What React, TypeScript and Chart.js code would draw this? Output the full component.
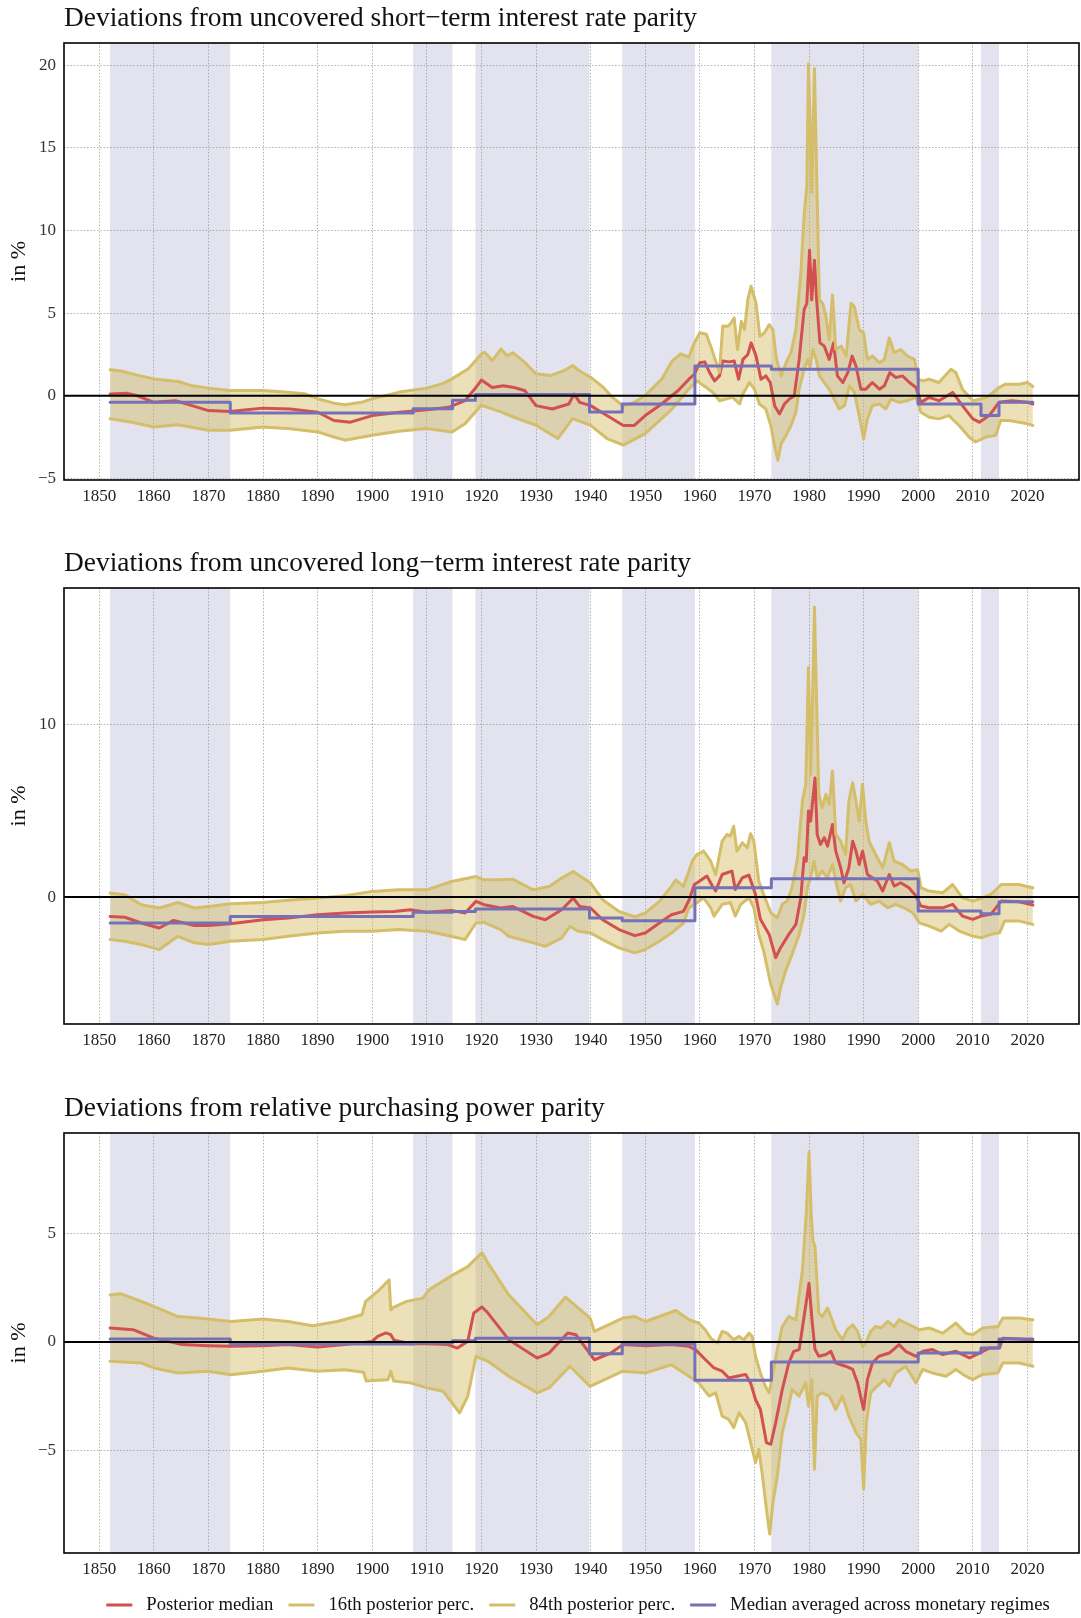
import React, { useEffect, useRef } from "react";
import { Chart, registerables } from "chart.js";

Chart.register(...registerables);

type Pt = [number, number];

// ---------- shared axis data ----------
const xTickYears = [1850, 1860, 1870, 1880, 1890, 1900, 1910, 1920, 1930, 1940, 1950, 1960, 1970, 1980, 1990, 2000, 2010, 2020];
// monetary regime boundaries (shaded: 1st, 3rd, 5th ... interval)
const regimeBreaks = [1852, 1874, 1907.5, 1914.7, 1918.9, 1939.8, 1945.8, 1959.1, 1973.1, 2000, 2011.5, 2014.8, 2021];

const seriesLabels = ["Posterior median", "16th posterior perc.", "84th posterior perc.", "Median averaged across monetary regimes"];

// ---------- panel 1: short-term interest rate parity ----------
const p1Median: Pt[] = [
  [1852, 0.1], [1855, 0.15], [1857, 0.0], [1860, -0.4], [1864, -0.3], [1867, -0.6], [1870, -0.9], [1874, -0.95], [1877, -0.85], [1880, -0.75],
  [1885, -0.8], [1890, -1.0], [1893, -1.5], [1896, -1.6], [1900, -1.2], [1905, -1.0], [1910, -0.85], [1914, -0.7], [1917, -0.3], [1919, 0.5],
  [1920, 0.95], [1922, 0.5], [1924, 0.6], [1926, 0.5], [1928, 0.3], [1930, -0.6], [1933, -0.8], [1936, -0.5], [1937, 0.1], [1938, -0.4],
  [1940, -0.6], [1942, -1.0], [1946, -1.8], [1948, -1.8], [1950, -1.2], [1953, -0.5], [1956, 0.3], [1958, 1.0], [1959, 1.3], [1960, 2.0],
  [1960.9, 2.05], [1961.8, 1.4], [1962.7, 0.9], [1963.6, 1.2], [1964.2, 2.1], [1965.4, 2.05], [1966.3, 2.1], [1967.1, 1.0], [1967.9, 2.2], [1968.8, 2.5],
  [1969.4, 3.2], [1970.3, 2.4], [1971.2, 1.0], [1972.1, 1.2], [1972.9, 0.8], [1973.7, -0.6], [1974.6, -1.1], [1975.5, -0.5], [1976.4, -0.2], [1977.3, 0.0],
  [1978.2, 2.2], [1979.1, 5.2], [1979.6, 5.6], [1980.1, 8.8], [1980.5, 5.8], [1981, 8.2], [1981.4, 5.8], [1982, 3.2], [1982.8, 3.0], [1983.7, 2.2],
  [1984.5, 3.2], [1985.2, 1.2], [1986.2, 0.8], [1987.1, 1.4], [1987.9, 2.4], [1988.6, 1.8], [1989.5, 0.4], [1990.4, 0.4], [1991.6, 0.8], [1992.9, 0.4],
  [1993.8, 0.6], [1994.8, 1.4], [1995.9, 1.1], [1997.1, 1.2], [1998.4, 0.8], [1999.6, 0.5], [2000.5, -0.4], [2002, -0.1], [2003.8, -0.3], [2006.3, 0.2],
  [2008.1, -0.6], [2010, -1.4], [2011.2, -1.6], [2013, -1.2], [2014.8, -0.4], [2017.2, -0.3], [2020, -0.4], [2021, -0.5],
];
const p1Lower: Pt[] = [
  [1852, -1.39], [1856, -1.6], [1860, -1.89], [1864.4, -1.75], [1870, -2.09], [1874, -2.09], [1880, -1.89], [1885, -2.0], [1890, -2.19], [1893, -2.5],
  [1895, -2.69], [1900, -2.39], [1904.9, -2.15], [1910, -1.99], [1914.6, -2.19], [1917, -1.69], [1920, -0.58], [1923.6, -0.98], [1925, -1.18], [1930, -1.79],
  [1934, -2.59], [1936.7, -1.39], [1940, -1.79], [1943, -2.59], [1946, -2.99], [1950, -2.29], [1955, -0.78], [1958, 0.42], [1959.5, 0.9], [1960.3, 0.7],
  [1961.2, 0.5], [1962.4, 0.2], [1963.6, -0.3], [1964.8, -0.2], [1966, -0.1], [1967.3, -0.5], [1967.9, 0.1], [1969.1, 0.8], [1970, 0.4], [1970.9, -0.5],
  [1972.1, -0.8], [1973, -1.8], [1973.8, -3.2], [1974.3, -3.9], [1974.9, -2.9], [1975.8, -2.4], [1976.7, -1.8], [1977.6, -1.0], [1978.2, 0.4], [1979.1, 1.6],
  [1979.8, 2.2], [1980.2, 1.7], [1980.7, 2.8], [1981.3, 2.2], [1981.9, 1.2], [1982.8, 0.8], [1983.7, 0.4], [1984.6, -0.2], [1985.5, -0.8], [1986.5, -0.6],
  [1987.4, 0.6], [1988.3, 0.2], [1989.2, -1.2], [1990, -2.6], [1990.7, -1.4], [1991.6, -0.6], [1992.9, -0.5], [1994.1, -0.8], [1995, -0.2], [1996.5, -0.4],
  [1998, -0.3], [1999.6, -0.1], [2000.5, -1.0], [2002, -1.3], [2003.8, -1.4], [2005.6, -1.2], [2007.5, -1.8], [2009.3, -2.5], [2010.5, -2.8], [2012.4, -2.5],
  [2014.2, -2.4], [2015.1, -1.5], [2016.6, -1.5], [2018.5, -1.6], [2020, -1.7], [2021, -1.8],
];
const p1Upper: Pt[] = [
  [1852, 1.57], [1854, 1.5], [1857, 1.25], [1860, 1.02], [1864.5, 0.86], [1867, 0.6], [1870, 0.46], [1874, 0.32], [1880, 0.32], [1884, 0.22],
  [1887.6, 0.12], [1890, -0.18], [1893, -0.45], [1895, -0.54], [1898, -0.4], [1900, -0.18], [1905, 0.22], [1910, 0.46], [1913, 0.75], [1914.6, 1.02],
  [1917.6, 1.63], [1920, 2.53], [1920.6, 2.63], [1922, 2.13], [1923.6, 2.83], [1924.7, 2.43], [1925.8, 2.6], [1928, 2.0], [1930, 1.33], [1932.6, 1.22],
  [1935, 1.5], [1936.7, 1.83], [1938, 1.5], [1940, 1.12], [1942.3, 0.52], [1944, -0.1], [1946, -0.62], [1948, -0.4], [1950, 0.02], [1953, 1.0],
  [1955, 2.13], [1956.5, 2.53], [1958, 2.33], [1959, 3.2], [1960, 3.82], [1961.2, 3.72], [1962.4, 2.61], [1963.6, 1.41], [1964.2, 4.22], [1965.1, 4.2],
  [1965.7, 4.4], [1966.3, 4.7], [1966.9, 2.8], [1967.6, 4.5], [1968.2, 4.0], [1968.8, 5.83], [1969.4, 6.63], [1970.3, 5.6], [1971, 3.6], [1971.8, 3.8],
  [1972.7, 4.3], [1973.4, 4.0], [1974, 2.3], [1974.9, 1.2], [1975.8, 2.0], [1976.7, 2.6], [1977.6, 4.0], [1978.5, 7.4], [1979.1, 10.9], [1979.6, 12.7],
  [1979.9, 20.1], [1980.2, 16.5], [1980.5, 12.3], [1981, 19.8], [1981.4, 13.5], [1981.9, 5.8], [1982.5, 5.6], [1983.1, 4.8], [1983.7, 3.4], [1984.3, 6.1],
  [1984.9, 2.8], [1985.9, 3.0], [1986.8, 2.4], [1987.7, 5.6], [1988.3, 5.4], [1989.2, 4.0], [1990, 3.8], [1990.7, 2.2], [1991.6, 2.4], [1992.9, 2.0],
  [1993.8, 2.2], [1994.7, 3.5], [1995.6, 2.6], [1996.8, 2.8], [1998, 2.4], [1999.3, 2.2], [2000, 1.0], [2000.8, 0.9], [2002, 1.0], [2003.8, 0.8],
  [2006, 1.6], [2006.9, 1.4], [2008.1, 0.4], [2010, -0.3], [2011.5, -0.2], [2013, 0.0], [2014.8, 0.5], [2016, 0.7], [2018.5, 0.7], [2020, 0.8], [2021, 0.56],
];
const p1Regime = [-0.4, -1.04, -0.78, -0.28, 0.08, -0.98, -0.5, 1.8, 1.6, -0.5, -1.2, -0.4];
const p1YTicks = [-5, 0, 5, 10, 15, 20];

// ---------- panel 2: long-term interest rate parity ----------
const p2Median: Pt[] = [
  [1852, -1.12], [1854.7, -1.17], [1857.7, -1.5], [1861, -1.79], [1863.6, -1.35], [1867.4, -1.65], [1870, -1.65], [1874, -1.54], [1880, -1.31], [1884.6, -1.21],
  [1890, -1.02], [1895, -0.92], [1900, -0.87], [1904, -0.83], [1907, -0.73], [1910, -0.88], [1914.5, -0.77], [1917, -0.92], [1919, -0.25], [1920.5, -0.44],
  [1923.5, -0.63], [1925.7, -0.54], [1929.5, -1.12], [1931.7, -1.31], [1934.7, -0.73], [1936.8, -0.06], [1938, -0.54], [1940, -0.63], [1942.2, -1.31], [1945.2, -1.88],
  [1948.1, -2.23], [1950, -2.08], [1952.6, -1.5], [1954.8, -1.02], [1957, -0.83], [1958, -0.2], [1959, 0.73], [1959.8, 0.89], [1961.3, 1.22], [1962.3, 0.64],
  [1962.9, 0.35], [1964.1, 1.31], [1965, 1.41], [1965.9, 1.5], [1966.5, 0.44], [1967.8, 1.12], [1969, 1.27], [1970.2, 0.15], [1971.1, -1.29], [1972.7, -2.16],
  [1973.9, -3.51], [1974.8, -2.93], [1976.3, -2.16], [1977.6, -1.58], [1978.5, -0.04], [1979.1, 2.28], [1979.5, 2.08], [1979.9, 4.98], [1980.3, 4.4], [1981.1, 6.9],
  [1981.5, 3.63], [1982.1, 3.05], [1982.8, 3.44], [1983.4, 2.95], [1984.3, 4.2], [1984.9, 2.66], [1985.8, 1.7], [1986.4, 0.83], [1987.3, 1.7], [1988, 3.24],
  [1988.6, 2.66], [1989.2, 1.89], [1989.8, 2.66], [1990.7, 1.31], [1991.6, 1.12], [1992.5, 0.93], [1993.5, 0.35], [1994.7, 1.31], [1995.6, 0.64], [1996.8, 0.83],
  [1998.3, 0.54], [1999.6, 0.06], [2000.5, -0.52], [2002, -0.62], [2004.5, -0.62], [2006.3, -0.42], [2008.1, -1.1], [2010, -1.29], [2011.5, -1.1], [2013.3, -1.0],
  [2015.2, -0.23], [2018.5, -0.27], [2021, -0.46],
];
const p2Lower: Pt[] = [
  [1852, -2.46], [1854.7, -2.56], [1857.7, -2.75], [1861, -3.04], [1864.4, -2.27], [1867.4, -2.65], [1870, -2.75], [1874, -2.56], [1880, -2.46], [1884.6, -2.27],
  [1890, -2.08], [1895, -1.98], [1900, -1.98], [1904.8, -1.88], [1910, -1.98], [1913, -2.17], [1917, -2.46], [1919, -1.5], [1920.5, -1.46], [1923.5, -1.88],
  [1925, -2.27], [1929.5, -2.65], [1931.7, -2.85], [1934.7, -2.37], [1936.2, -1.69], [1937.7, -1.98], [1940, -2.08], [1942.2, -2.46], [1945.2, -2.94], [1948.1, -3.23],
  [1950, -3.04], [1952.6, -2.56], [1954.8, -2.08], [1957, -1.5], [1958, -0.62], [1959.5, -0.33], [1960.7, -0.04], [1962, -0.62], [1962.6, -1.1], [1964.1, -0.42],
  [1965.6, -0.33], [1966.5, -1.1], [1967.5, -0.42], [1969, -0.04], [1969.9, -0.62], [1970.8, -2.16], [1971.7, -3.13], [1973, -5.06], [1974.2, -6.2], [1974.8, -5.25],
  [1975.7, -4.29], [1976.9, -3.32], [1978.2, -2.16], [1979.1, -1.0], [1979.7, 0.54], [1980.3, 1.12], [1980.9, 2.08], [1981.5, 1.12], [1982.4, 1.5], [1983.4, 1.12],
  [1984.3, 1.89], [1984.9, 0.93], [1985.8, -0.23], [1986.7, 0.54], [1987.6, 0.73], [1988.6, -0.23], [1989.8, 0.15], [1991.3, -0.42], [1992.8, -0.23], [1994.4, -0.62],
  [1995.9, -0.42], [1997.4, -0.62], [1999, -0.91], [2000.2, -1.49], [2002, -1.68], [2004.2, -1.97], [2005.7, -1.58], [2007.5, -1.97], [2010, -2.26], [2011.5, -2.36],
  [2013.3, -2.16], [2014.9, -2.07], [2015.8, -1.39], [2018.5, -1.39], [2021, -1.58],
];
const p2Upper: Pt[] = [
  [1852, 0.23], [1854.7, 0.13], [1857.7, -0.44], [1861, -0.63], [1864.4, -0.31], [1867.4, -0.63], [1870, -0.54], [1874, -0.38], [1880, -0.31], [1884.6, -0.19],
  [1890, -0.06], [1895, 0.08], [1900, 0.33], [1904.8, 0.42], [1910, 0.42], [1914.5, 0.9], [1919, 1.19], [1920.5, 1.0], [1923.5, 1.0], [1925.7, 1.04],
  [1929.5, 0.42], [1932.4, 0.62], [1934.7, 1.1], [1936.8, 1.48], [1940, 0.81], [1942.2, -0.15], [1945.2, -0.83], [1948.1, -1.15], [1950, -0.92], [1952.6, -0.25],
  [1954.8, 0.62], [1955.6, 1.0], [1957, 0.62], [1958, 1.5], [1958.6, 2.08], [1959.5, 2.47], [1960.7, 2.66], [1962, 2.08], [1962.9, 1.31], [1964.1, 3.24],
  [1965, 3.63], [1965.6, 3.53], [1966.2, 4.1], [1966.8, 2.66], [1967.8, 3.15], [1968.7, 2.86], [1969.3, 3.67], [1969.9, 3.24], [1970.8, 0.93], [1971.7, 0.15],
  [1973, -0.91], [1974.2, -1.2], [1975.1, -0.42], [1976, -0.23], [1976.9, 0.54], [1977.9, 2.28], [1978.8, 5.56], [1979.4, 6.53], [1979.9, 13.3], [1980.3, 7.1],
  [1980.7, 12.1], [1981, 16.8], [1981.4, 11.2], [1981.8, 5.95], [1982.4, 5.17], [1983.1, 5.95], [1983.7, 5.37], [1984.3, 7.3], [1984.9, 3.63], [1985.8, 3.24],
  [1986.7, 2.47], [1987.3, 5.56], [1988, 6.62], [1988.6, 5.56], [1989.2, 4.4], [1989.8, 6.53], [1990.4, 4.4], [1991, 3.24], [1992.2, 2.47], [1993.5, 1.7],
  [1994.7, 3.15], [1995.6, 2.08], [1997.1, 1.89], [1998.7, 1.5], [1999.9, 1.6], [2000.5, 0.54], [2002, 0.35], [2004.5, 0.25], [2006.3, 0.73], [2008.1, -0.04],
  [2010, -0.23], [2011.8, -0.04], [2013.3, 0.15], [2015.2, 0.73], [2018.5, 0.73], [2021, 0.54],
];
const p2Regime = [-1.5, -1.12, -0.88, -0.83, -0.69, -1.21, -1.37, 0.54, 1.06, -0.81, -0.97, -0.27];
const p2YTicks = [0, 10];

// ---------- panel 3: relative purchasing power parity ----------
const p3Median: Pt[] = [
  [1852, 0.65], [1856.2, 0.57], [1860, 0.18], [1865.2, -0.12], [1870, -0.17], [1874.1, -0.2], [1880, -0.17], [1884.6, -0.12], [1890, -0.23], [1895, -0.12],
  [1900, 0.03], [1901, 0.26], [1902.5, 0.42], [1903.4, 0.34], [1904, 0.08], [1907, -0.08], [1910, -0.08], [1913.8, -0.12], [1915.6, -0.28], [1917.5, 0.03],
  [1918.6, 1.34], [1920.1, 1.62], [1921.2, 1.34], [1925, 0.11], [1930.2, -0.74], [1932.4, -0.51], [1935.8, 0.42], [1937.3, 0.34], [1940.7, -0.82], [1943.7, -0.51],
  [1945.9, -0.12], [1950.1, -0.17], [1954.8, -0.12], [1958, -0.2], [1959.2, -0.35], [1961, -0.81], [1962.6, -1.2], [1964.1, -1.35], [1965.3, -1.66], [1966.8, -1.58],
  [1968.4, -1.5], [1969.3, -1.89], [1970.2, -2.66], [1971.1, -3.12], [1972.2, -4.65], [1973, -4.73], [1973.9, -3.73], [1975.1, -2.2], [1976.3, -0.97], [1977.2, -0.43],
  [1978.2, -0.35], [1979.1, 1.18], [1980, 2.72], [1980.6, 0.88], [1981.1, -0.35], [1981.8, -0.66], [1983.1, -0.58], [1984, -0.43], [1984.9, -0.97], [1986.7, -1.12],
  [1988, -1.27], [1988.9, -1.89], [1990, -3.12], [1990.7, -1.74], [1991.6, -0.97], [1992.8, -0.66], [1994.7, -0.51], [1996.5, -0.12], [1997.7, -0.43], [1999.6, -0.66],
  [2000.8, -0.43], [2002.6, -0.35], [2004.5, -0.58], [2006.9, -0.43], [2009.4, -0.74], [2011.2, -0.51], [2013, -0.28], [2014.9, -0.28], [2015.5, 0.18], [2018.5, 0.14],
  [2021, 0.08],
];
const p3Lower: Pt[] = [
  [1852, -0.89], [1857.7, -0.97], [1860, -1.2], [1864.4, -1.43], [1870, -1.35], [1874.1, -1.51], [1880, -1.35], [1884.6, -1.2], [1890, -1.35], [1895, -1.28],
  [1898.4, -1.4], [1898.9, -1.8], [1902.9, -1.74], [1903.4, -1.35], [1903.9, -1.8], [1907, -1.89], [1910, -2.12], [1913, -2.28], [1916, -3.28], [1917.5, -2.51],
  [1919, -0.66], [1921.2, -0.89], [1925, -1.58], [1930.2, -2.35], [1932.4, -2.12], [1936.2, -1.12], [1939.9, -2.05], [1945.9, -1.35], [1950.1, -1.43], [1954.8, -1.05],
  [1958, -1.58], [1959.8, -1.89], [1961.7, -2.5], [1962.9, -2.35], [1964.1, -3.43], [1965.3, -3.58], [1966.2, -3.96], [1967.2, -3.27], [1968.4, -3.73], [1969.6, -4.96],
  [1970.2, -5.58], [1970.8, -4.96], [1971.4, -6.04], [1972.2, -7.73], [1972.8, -8.88], [1973.4, -7.42], [1974.2, -6.19], [1975.1, -4.19], [1976, -3.27], [1976.9, -2.2],
  [1978.2, -2.5], [1979.4, -1.89], [1979.9, -2.96], [1980.5, -1.74], [1981, -5.88], [1981.5, -2.5], [1982.4, -2.35], [1983.7, -2.5], [1984.9, -3.12], [1986.1, -2.5],
  [1987.3, -3.43], [1988.6, -4.19], [1989.5, -4.5], [1990, -6.8], [1990.5, -3.73], [1991.3, -2.35], [1992.5, -2.04], [1993.8, -1.74], [1994.7, -2.04], [1995.9, -1.43],
  [1997.7, -1.12], [1999.6, -1.89], [2000.8, -1.27], [2002.6, -1.43], [2005.1, -1.58], [2006.9, -1.27], [2008.7, -1.58], [2010, -1.74], [2011.8, -1.5], [2014.6, -1.43],
  [2015.5, -0.97], [2018.5, -0.97], [2021, -1.12],
];
const p3Upper: Pt[] = [
  [1852, 2.18], [1854, 2.23], [1857.7, 1.88], [1860, 1.65], [1864.4, 1.18], [1868.2, 1.11], [1874.1, 0.95], [1880, 1.06], [1884.6, 0.95], [1889.1, 0.75],
  [1893.6, 0.95], [1898.1, 1.26], [1898.8, 1.88], [1901, 2.34], [1903.1, 2.88], [1903.4, 1.49], [1904, 1.62], [1906.3, 1.88], [1909.3, 2.03], [1910.4, 2.42],
  [1914.5, 3.06], [1917.5, 3.49], [1920.1, 4.14], [1921.2, 3.65], [1925, 2.18], [1930.2, 0.8], [1932.4, 1.18], [1935.4, 2.08], [1939.9, 1.11], [1940.7, 0.49],
  [1945.9, 1.11], [1948.1, 1.18], [1950.1, 0.95], [1955.6, 1.46], [1958, 1.03], [1959.8, 0.88], [1961, 0.57], [1962, 0.18], [1963.2, -0.05], [1964.1, 0.49],
  [1965, 0.41], [1966.2, 0.11], [1967.2, 0.26], [1968.1, 0.11], [1969, 0.41], [1969.6, 0.26], [1970.2, -0.66], [1971.1, -1.43], [1972, -2.04], [1972.7, -2.35],
  [1973.3, -1.58], [1974.2, -0.35], [1975.1, 0.72], [1976.3, 1.18], [1977.6, 1.03], [1978.8, 3.33], [1979.5, 5.94], [1980, 8.79], [1980.4, 5.94], [1980.7, 4.72],
  [1981.1, 4.41], [1981.8, 1.34], [1982.4, 1.18], [1983.4, 1.57], [1984, 1.18], [1984.9, 0.57], [1986.1, 0.11], [1987, 0.57], [1988, 0.8], [1988.9, 0.49],
  [1989.8, -0.2], [1990.4, -0.05], [1991.3, 0.49], [1992.2, 0.72], [1993.2, 0.65], [1994.4, 0.95], [1995.6, 0.72], [1996.5, 1.03], [1997.7, 0.88], [1999, 0.72],
  [2000.2, 0.57], [2002, 0.65], [2004.5, 0.41], [2006.9, 0.88], [2008.7, 0.41], [2010, 0.34], [2011.8, 0.65], [2014.6, 0.72], [2015.5, 1.11], [2018.5, 1.11],
  [2021, 1.03],
];
const p3Regime = [0.14, -0.09, -0.05, 0.06, 0.18, -0.54, -0.09, -1.77, -0.92, -0.51, -0.28, 0.14];
const p3YTicks = [-5, 0, 5];

// ---------- styling ----------
const FONT = "'Liberation Serif', 'DejaVu Serif', serif";
const RED = "#d35050";
const YEL = "#d4be6a";
const FILL = "rgba(213, 190, 103, 0.47)";
const PUR = "#7670b8";
const BAND = "#e3e3ef";
const GRID = "#9c9c9c";
const X_MIN = 1843.55;
const X_MAX = 2029.45;
const Y_AXIS_W = 64;
const X_AXIS_H = 36;
const LINE_W = 3;

interface PanelSpec {
  title: string;
  median: Pt[];
  lower: Pt[];
  upper: Pt[];
  regime: number[];
  yMin: number;
  yMax: number;
  yTicks: number[];
  top: number;
  height: number;
  areaTop: number;
  areaBottom: number;
  legend: boolean;
}

const panels: PanelSpec[] = [
  { title: "Deviations from uncovered short\u2212term interest rate parity", median: p1Median, lower: p1Lower, upper: p1Upper, regime: p1Regime,
    yMin: -5.1, yMax: 21.35, yTicks: p1YTicks, top: 0, height: 540, areaTop: 43, areaBottom: 480, legend: false },
  { title: "Deviations from uncovered long\u2212term interest rate parity", median: p2Median, lower: p2Lower, upper: p2Upper, regime: p2Regime,
    yMin: -7.35, yMax: 17.9, yTicks: p2YTicks, top: 540, height: 540, areaTop: 48, areaBottom: 484, legend: false },
  { title: "Deviations from relative purchasing power parity", median: p3Median, lower: p3Lower, upper: p3Upper, regime: p3Regime,
    yMin: -9.76, yMax: 9.67, yTicks: p3YTicks, top: 1080, height: 538, areaTop: 53, areaBottom: 473, legend: true },
];

const toXY = (a: Pt[]) => a.map(([x, y]) => ({ x, y }));
const stepXY = (vals: number[]) => {
  const pts = vals.map((v, i) => ({ x: regimeBreaks[i], y: v }));
  pts.push({ x: regimeBreaks[regimeBreaks.length - 1], y: vals[vals.length - 1] });
  return pts;
};
const fmt = (v: number) => (v < 0 ? "\u2212" + Math.abs(v) : String(v));

const decorPlugin = {
  id: "decor",
  beforeDraw(chart: any) {
    const { ctx, chartArea: a, scales } = chart;
    const x = scales.x;
    ctx.save();
    ctx.fillStyle = BAND;
    for (let i = 0; i + 1 < regimeBreaks.length; i += 2) {
      const x0 = x.getPixelForValue(regimeBreaks[i]);
      const x1 = x.getPixelForValue(regimeBreaks[i + 1]);
      ctx.fillRect(x0, a.top, x1 - x0, a.bottom - a.top);
    }
    ctx.restore();
  },
  afterDatasetsDraw(chart: any) {
    const { ctx, chartArea: a, scales } = chart;
    const y0 = scales.y.getPixelForValue(0);
    ctx.save();
    ctx.strokeStyle = "#000";
    ctx.lineWidth = 2;
    ctx.beginPath();
    ctx.moveTo(a.left, y0);
    ctx.lineTo(a.right, y0);
    ctx.stroke();
    ctx.restore();
  },
  afterDraw(chart: any, _args: any, opts: any) {
    const { ctx, chartArea: a } = chart;
    ctx.save();
    // frame
    ctx.strokeStyle = "#000";
    ctx.lineWidth = 1.6;
    ctx.strokeRect(a.left, a.top, a.right - a.left, a.bottom - a.top);
    // panel title
    ctx.fillStyle = "#111";
    ctx.font = `27.4px ${FONT}`;
    ctx.textAlign = "left";
    ctx.textBaseline = "middle";
    ctx.fillText(opts.title, a.left, a.top - 24.5);
    // y-axis title
    ctx.save();
    ctx.translate(19, (a.top + a.bottom) / 2);
    ctx.rotate(-Math.PI / 2);
    ctx.textAlign = "center";
    ctx.font = `22px ${FONT}`;
    ctx.fillText("in %", 0, 0);
    ctx.restore();
    // legend
    if (opts.legend) {
      const items = chart.data.datasets.map((d: any) => ({ label: d.label, color: d.borderColor }));
      ctx.font = `18.7px ${FONT}`;
      const SW = 26, G1 = 14, G2 = 15;
      const widths = items.map((it: any) => SW + G1 + ctx.measureText(it.label).width);
      const total = widths.reduce((s: number, w: number) => s + w, 0) + G2 * (items.length - 1);
      let lx = 578 - total / 2;
      const ly = a.bottom + 52;
      items.forEach((it: any, i: number) => {
        ctx.strokeStyle = it.color;
        ctx.lineWidth = 3;
        ctx.beginPath();
        ctx.moveTo(lx, ly);
        ctx.lineTo(lx + SW, ly);
        ctx.stroke();
        ctx.fillStyle = "#111";
        ctx.textAlign = "left";
        ctx.textBaseline = "middle";
        ctx.fillText(it.label, lx + SW + G1, ly);
        lx += widths[i] + G2;
      });
    }
    ctx.restore();
  },
};

function buildChart(canvas: HTMLCanvasElement, spec: PanelSpec) {
  const lineBase = { pointRadius: 0, borderWidth: LINE_W, borderJoinStyle: "round" as const, borderCapStyle: "round" as const, tension: 0 };
  return new Chart(canvas, {
    type: "line",
    data: {
      datasets: [
        { ...lineBase, label: seriesLabels[0], data: toXY(spec.median), borderColor: RED, fill: false, order: 3 },
        { ...lineBase, label: seriesLabels[1], data: toXY(spec.lower), borderColor: YEL, fill: false, order: 2 },
        { ...lineBase, label: seriesLabels[2], data: toXY(spec.upper), borderColor: YEL, fill: "-1", backgroundColor: FILL, order: 1 },
        { ...lineBase, label: seriesLabels[3], data: stepXY(spec.regime), borderColor: PUR, fill: false, stepped: true, order: 0 },
      ],
    } as any,
    options: {
      animation: false,
      responsive: false,
      events: [],
      layout: { padding: { top: spec.areaTop, right: 2, bottom: spec.height - spec.areaBottom - X_AXIS_H, left: 0 } },
      scales: {
        x: {
          type: "linear",
          min: X_MIN,
          max: X_MAX,
          afterBuildTicks: (s: any) => { s.ticks = xTickYears.map((v) => ({ value: v })); },
          afterFit: (s: any) => { s.height = X_AXIS_H; s.paddingLeft = 0; s.paddingRight = 0; },
          grid: { color: GRID, lineWidth: 0.8, drawTicks: false },
          border: { display: false, dash: [1.5, 1.8] },
          ticks: { callback: (v: any) => String(v), autoSkip: false, maxRotation: 0, padding: 6, color: "#222", font: { family: FONT, size: 17 } },
        },
        y: {
          type: "linear",
          min: spec.yMin,
          max: spec.yMax,
          afterBuildTicks: (s: any) => { s.ticks = spec.yTicks.map((v) => ({ value: v })); },
          afterFit: (s: any) => { s.width = Y_AXIS_W; s.paddingTop = 0; s.paddingBottom = 0; },
          grid: { color: GRID, lineWidth: 0.8, drawTicks: false },
          border: { display: false, dash: [1.5, 1.8] },
          ticks: { callback: (v: any) => fmt(Number(v)), padding: 8, color: "#333", font: { family: FONT, size: 17 } },
        },
      },
      plugins: {
        legend: { display: false },
        title: { display: false },
        tooltip: { enabled: false },
        filler: { drawTime: "beforeDatasetsDraw" },
        decor: { title: spec.title, legend: spec.legend },
      } as any,
    },
    plugins: [decorPlugin as any],
  });
}

export default function App() {
  const refs = [useRef<HTMLCanvasElement>(null), useRef<HTMLCanvasElement>(null), useRef<HTMLCanvasElement>(null)];
  useEffect(() => {
    document.body.style.margin = "0";
    const charts = panels.map((p, i) => buildChart(refs[i].current as HTMLCanvasElement, p));
    return () => charts.forEach((c) => c.destroy());
  }, []);
  return (
    <div style={{ position: "relative", width: 1081, height: 1618, overflow: "hidden", background: "#fff" }}>
      {panels.map((p, i) => (
        <canvas key={i} ref={refs[i]} width={1081} height={p.height}
          style={{ position: "absolute", left: 0, top: p.top, width: 1081, height: p.height, display: "block" }} />
      ))}
    </div>
  );
}
